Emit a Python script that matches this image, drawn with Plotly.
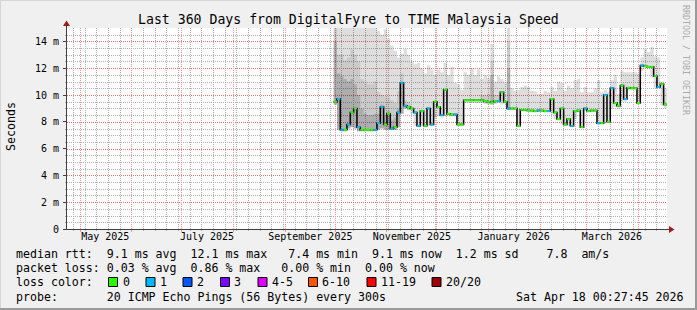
import math
import plotly.graph_objects as go
import pandas as pd

# ---------------- data ----------------
title_text = "Last 360 Days from DigitalFyre to TIME Malaysia Speed"
x_start = "2025-04-23 00:27:45"
x_end = "2026-04-18 00:27:45"
data_start = "2025-09-30"
step_days = 2

# median round-trip time (ms), one value per 2-day step
median_ms = [
    9.5, 9.7, 7.4, 7.4, 7.8, 8.7, 9.0, 7.6, 7.4, 7.4,
    7.4, 7.4, 7.4, 7.9, 9.1, 7.8, 8.6, 7.5, 7.6, 8.7,
    10.9, 9.2, 9.1, 9.0, 8.7, 7.7, 8.8, 7.7, 9.0, 7.8,
    9.5, 9.1, 8.5, 10.4, 8.6, 8.55, 8.55, 7.8, 7.8, 9.6,
    9.6, 9.6, 9.6, 9.6, 9.6, 9.55, 9.5, 9.45, 9.55, 9.55,
    10.2, 9.5, 9.0, 9.0, 9.0, 7.7, 8.9, 8.9, 8.85, 8.85,
    8.8, 8.85, 8.85, 8.8, 8.8, 9.7, 8.7, 8.2, 9.0, 7.8,
    8.2, 7.7, 8.8, 8.85, 7.6, 9.0, 8.8, 8.85, 8.85, 7.9,
    7.9, 10.0, 8.0, 10.5, 9.4, 9.2, 10.7, 9.7, 10.55, 10.5,
    10.5, 9.4, 12.2, 12.15, 12.1, 12.1, 11.4, 10.6, 10.8, 9.3,
]
# packet-loss class index per step (0 = no loss, 1 = one lost ping)
loss_idx = [
    0, 1, 1, 0, 1, 0, 0, 1, 0, 0,
    0, 0, 1, 1, 1, 0, 0, 1, 0, 1,
    1, 1, 0, 0, 1, 1, 0, 0, 1, 1,
    0, 0, 1, 0, 0, 0, 1, 0, 0, 0,
    0, 0, 0, 0, 0, 0, 0, 0, 0, 1,
    0, 0, 1, 0, 0, 0, 0, 0, 0, 0,
    0, 1, 0, 0, 1, 0, 0, 0, 0, 0,
    0, 1, 0, 0, 0, 1, 0, 0, 0, 1,
    0, 1, 0, 1, 0, 0, 0, 1, 0, 0,
    0, 0, 1, 0, 0, 0, 0, 1, 0, 0,
]
# smoke: highest / lowest ping per step (ms)
smoke_hi = [
    16.0, 16.0, 16.0, 16.0, 16.0, 16.0, 16.0, 16.0, 16.0, 16.0,
    16.0, 16.0, 16.0, 14.8, 14.5, 14.9, 14.2, 13.7, 13.3, 12.8,
    13.1, 13.45, 13.0, 12.5, 12.3, 12.4, 12.0, 11.6, 12.2, 11.9,
    11.5, 11.9, 11.7, 12.4, 11.5, 12.1, 10.9, 10.8, 10.4, 11.7,
    11.5, 12.0, 11.5, 11.9, 11.2, 11.5, 11.3, 13.8, 11.0, 11.4,
    11.2, 11.0, 15.2, 10.5, 10.3, 10.4, 10.6, 10.7, 10.6, 10.3,
    10.3, 10.1, 10.1, 10.3, 10.2, 10.6, 10.3, 11.0, 10.9, 10.3,
    10.7, 10.5, 11.1, 11.2, 10.2, 10.6, 10.2, 10.2, 10.5, 11.1,
    10.2, 10.4, 10.2, 11.1, 11.5, 10.1, 11.8, 11.7, 11.7, 11.7,
    11.7, 11.6, 12.8, 13.45, 13.2, 13.6, 12.9, 12.8, 11.0, 10.5,
]
smoke_lo = [
    9.3, 7.4, 7.3, 7.3, 7.5, 7.6, 7.5, 7.3, 7.3, 7.3,
    7.3, 7.3, 7.3, 7.4, 7.5, 7.4, 7.4, 7.4, 7.4, 7.6,
    8.6, 9.0, 8.9, 8.6, 7.7, 7.6, 7.7, 7.6, 7.7, 7.7,
    8.3, 8.4, 8.3, 8.4, 8.4, 8.4, 8.4, 7.7, 7.7, 9.4,
    9.4, 9.4, 9.4, 9.4, 9.4, 9.35, 9.3, 9.3, 9.35, 9.4,
    9.3, 9.3, 8.9, 8.9, 8.9, 7.6, 8.8, 8.8, 8.75, 8.75,
    8.7, 8.75, 8.75, 8.7, 8.7, 8.6, 8.2, 8.1, 7.8, 7.7,
    7.7, 7.6, 8.2, 8.7, 7.5, 8.8, 8.7, 8.75, 8.75, 7.8,
    7.8, 7.9, 7.9, 9.0, 9.1, 9.0, 9.5, 9.5, 10.4, 10.4,
    10.4, 9.3, 11.8, 12.0, 12.0, 11.3, 10.5, 10.5, 9.2, 9.0,
]
# denser smoke (inner ping ranks); None where not visible
smoke_mid = [
    15.5, 13.0, 13.0, 12.6, 12.8, 13.4, 13.0, 12.5, 11.2, 11.0,
    10.8, 10.8, 11.0, 10.2, 10.0, 9.9, 9.8, 9.6, 9.4, 10.3,
    11.6, 9.6, 9.5, None, None, None, None, None, None, None,
    None, None, None, None, None, None, None, None, None, None,
    None, None, None, None, 10.0, 10.0, 10.1, 12.5, 10.0, 10.0,
    None, None, 14.0, None, None, None, None, None, None, None,
    None, None, None, None, None, None, None, None, None, None,
    None, None, None, None, None, None, None, None, None, None,
    None, None, None, None, None, None, None, None, None, None,
    None, None, None, None, None, None, None, None, None, None,
]
smoke_dark = [
    14.0, 11.6, 11.4, 11.2, 11.0, 11.2, 10.8, 10.0, 9.0, 8.6,
    8.5, 8.5, 8.6, 8.6, 9.3, 8.5, 8.8, 8.1, 8.3, 9.0,
    11.0, 9.3, 9.2, None, None, None, None, None, None, None,
    None, None, None, None, None, None, None, None, None, None,
    None, None, None, None, None, None, None, 11.5, None, None,
    None, None, 12.0, None, None, None, None, None, None, None,
    None, None, None, None, None, None, None, None, None, None,
    None, None, None, None, None, None, None, None, None, None,
    None, None, None, None, None, None, None, None, None, None,
    None, None, None, None, None, None, None, None, None, None,
]

y_max = 15
y_ticks = [0, 2, 4, 6, 8, 10, 12, 14]
y_tick_text = ["0", "2 m", "4 m", "6 m", "8 m", "10 m", "12 m", "14 m"]
y_minor_step = 0.5
month_label_dates = ["2025-05-16", "2025-07-16", "2025-09-16",
                     "2025-11-16", "2026-01-16", "2026-03-16"]
month_labels = ["May 2025", "July 2025", "September 2025",
                "November 2025", "January 2026", "March 2026"]
first_month_grid = "2025-05-01"
first_week_grid = "2025-04-27"

loss_labels = ["0", "1", "2", "3", "4-5", "6-10", "11-19", "20/20"]
loss_colors = ["#26ff00", "#00b8ff", "#0059ff", "#7e00ff",
               "#dd00ff", "#ff5500", "#ff0000", "#a10000"]

rtt_parts = ["median rtt:", "9.1 ms avg", "12.1 ms max", "7.4 ms min",
             "9.1 ms now", "1.2 ms sd", "7.8", "am/s"]
rtt_gaps = [2, 2, 3, 2, 2, 4, 2]
loss_parts = ["packet loss:", "0.03 % avg", "0.86 % max", "0.00 % min", "0.00 % now"]
loss_gaps = [1, 2, 3, 2]
probe_parts = ["probe:", "20 ICMP Echo Pings (56 Bytes) every 300s"]
probe_gaps = [7]
stamp_text = "Sat Apr 18 00:27:45 2026"

# ---------------- helpers ----------------
W, H = 697, 310
L, R, T, B = 67, 30, 28, 81
PW, PH = W - L - R, H - T - B
BOTTOM = T + PH  # pixel row of value 0


def PX(x):
    return (x - L) / PW


def PY(y):
    return (BOTTOM - y) / PH


NB = "\u00a0"


def join(parts, gaps):
    s = parts[0]
    for g, p in zip(gaps, parts[1:]):
        s += NB * g + p
    return s.replace(" ", NB)


t0, t1 = pd.Timestamp(x_start), pd.Timestamp(x_end)


def col_of(ts):
    return math.floor(L + (ts - t0) / (t1 - t0) * PW)


def row_of(v):
    return BOTTOM - round(v * PH / y_max)


dates = list(pd.date_range(data_start, periods=len(median_ms), freq=f"{step_days}D"))
xs = dates + [dates[-1] + pd.Timedelta(days=step_days)]


def ext(v):
    return list(v) + [v[-1]]


mid_vals = [m if m is not None else lo for m, lo in zip(smoke_mid, smoke_lo)]
dark_vals = [d if d is not None else lo for d, lo in zip(smoke_dark, smoke_lo)]

fig = go.Figure()


def band(lo, hi, color):
    fig.add_trace(go.Scatter(x=xs, y=ext(lo), mode="lines",
                             line=dict(width=0, shape="hv"),
                             showlegend=False, hoverinfo="skip"))
    fig.add_trace(go.Scatter(x=xs, y=ext(hi), mode="lines",
                             line=dict(width=0, shape="hv"),
                             fill="tonexty", fillcolor=color,
                             showlegend=False, hoverinfo="skip"))


band(smoke_lo, smoke_hi, "rgba(0,0,0,0.13)")
band(smoke_lo, mid_vals, "rgba(0,0,0,0.09)")
band(smoke_lo, dark_vals, "rgba(0,0,0,0.14)")

# median: black step line, then loss-coloured horizontal parts
fig.add_trace(go.Scatter(x=xs, y=ext(median_ms), mode="lines",
                         line=dict(color="#000000", width=1.5, shape="hv"),
                         showlegend=False, hoverinfo="skip"))
for lvl in sorted(set(loss_idx)):
    sx, sy = [], []
    for i, (m, li) in enumerate(zip(median_ms, loss_idx)):
        if li == lvl:
            sx += [xs[i], xs[i + 1], None]
            sy += [m, m, None]
    fig.add_trace(go.Scatter(x=sx, y=sy, mode="lines",
                             line=dict(color=loss_colors[lvl], width=2),
                             showlegend=False, hoverinfo="skip"))

FONT = "DejaVu Sans Mono"
MAJ_H = "#e47272"
MAJ_V = "#ec9898"
MIN = "#b0b0b0"
DASH = "1px,1px"

fig.update_layout(
    width=W, height=H,
    margin=dict(l=L, r=R, t=T, b=B, pad=0),
    paper_bgcolor="#f0f0f0", plot_bgcolor="rgba(0,0,0,0)",
    showlegend=False,
    font=dict(family=FONT, size=10, color="#000000"),
    xaxis=dict(type="date", range=[x_start, x_end], tickmode="array",
               tickvals=month_label_dates, ticktext=month_labels,
               showgrid=False, zeroline=False, showline=False, ticks="",
               tickfont=dict(family=FONT, size=10, color="#000000"),
               fixedrange=True),
    yaxis=dict(range=[0, y_max], tickmode="array", tickvals=y_ticks,
               ticktext=y_tick_text, showgrid=False, zeroline=False,
               showline=False, ticks="outside", ticklen=3,
               tickcolor="#404040", ticklabelstandoff=2,
               tickfont=dict(family=FONT, size=10, color="#000000"),
               fixedrange=True),
)

shapes = []


def hline(y, x0, x1, color, width=1, dash=None, layer="below"):
    shapes.append(dict(type="line", xref="paper", yref="paper",
                       x0=PX(x0), x1=PX(x1), y0=PY(y), y1=PY(y), layer=layer,
                       line=dict(color=color, width=width, dash=dash)))


def vline(x, y0, y1, color, width=1, dash=None, layer="below"):
    shapes.append(dict(type="line", xref="paper", yref="paper",
                       x0=PX(x), x1=PX(x), y0=PY(y0), y1=PY(y1), layer=layer,
                       line=dict(color=color, width=width, dash=dash)))


# white canvas
shapes.append(dict(type="rect", xref="paper", yref="paper", layer="below",
                   x0=0, x1=1, y0=0, y1=1, fillcolor="#ffffff",
                   line=dict(width=0)))

# minor grid (y every 0.5, x weekly), then major grid (y every 2, x monthly)
major_rows = [row_of(v) for v in y_ticks if v > 0]
v = y_minor_step
while v < y_max:
    r = row_of(v)
    if r not in major_rows:
        hline(r + 0.5, L, L + PW, MIN, dash=DASH)
        hline(r + 0.5, L - 2, L, MIN)
    v += y_minor_step
month_starts = list(pd.date_range(first_month_grid, t1, freq="MS"))
month_cols = [col_of(m) for m in month_starts]
for wk in pd.date_range(first_week_grid, t1, freq="7D"):
    c = col_of(wk)
    if c not in month_cols and L <= c < L + PW:
        vline(c + 0.5, T, BOTTOM, MIN, dash=DASH)
        vline(c + 0.5, BOTTOM, BOTTOM + 2, MIN)
for r in major_rows:
    hline(r + 0.5, L, L + PW, MAJ_H, dash=DASH)
for c in month_cols:
    vline(c + 0.5, T, BOTTOM, MAJ_V, dash=DASH)
    vline(c + 0.5, BOTTOM, BOTTOM + 3, MAJ_V)

# outer frame
hline(0.5, 0, W, "#d6d6d6")
vline(0.5, 0, H, "#d6d6d6")
hline(H - 1, 0, W, "#9a9a9a", width=2)
vline(W - 1, 0, H, "#9a9a9a", width=2)

# axes with arrows
vline(L - 0.5, BOTTOM + 0.5, 24, "#404040", layer="above")
hline(BOTTOM + 0.5, L - 1, 670, "#404040", layer="above")
shapes.append(dict(type="path", xref="paper", yref="paper", layer="above",
                   path=f"M {PX(L - 0.5)},{PY(20.5)} L {PX(L - 4)},{PY(26)} L {PX(L + 3)},{PY(26)} Z",
                   fillcolor="#a01c1c", line=dict(width=0)))
shapes.append(dict(type="path", xref="paper", yref="paper", layer="above",
                   path=f"M {PX(674.5)},{PY(BOTTOM + 0.5)} L {PX(669)},{PY(BOTTOM - 3)} L {PX(669)},{PY(BOTTOM + 4)} Z",
                   fillcolor="#a01c1c", line=dict(width=0)))

# loss colour boxes
box_x = [108.5, 146, 183, 220.5, 258, 308.5, 367, 432]
for bx, col in zip(box_x, loss_colors):
    shapes.append(dict(type="rect", xref="paper", yref="paper",
                       x0=PX(bx), x1=PX(bx + 9), y0=PY(277.5), y1=PY(286.5),
                       fillcolor=col, line=dict(color="#000000", width=1)))
fig.update_layout(shapes=shapes)

ann = []


def text(x, y, s, size=11.6, xanchor="left", angle=0, color="#000000"):
    ann.append(dict(xref="paper", yref="paper", x=PX(x), y=PY(y), text=s,
                    showarrow=False, xanchor=xanchor, yanchor="middle",
                    textangle=angle, borderpad=0, borderwidth=0,
                    font=dict(family=FONT, size=size, color=color)))


text(348.5, 19, title_text.replace(" ", NB), size=13.2, xanchor="center")
text(11, 127, "Seconds", size=11.6, xanchor="center", angle=-90)
text(686, 60, "RRDTOOL / TOBI OETIKER".replace(" ", NB), size=8.3,
     xanchor="center", angle=90, color="#ababab")
text(16, 254.3, join(rtt_parts, rtt_gaps))
text(16, 268.3, join(loss_parts, loss_gaps))
text(16, 282, "loss" + NB + "color:")
label_x = [122.5, 159.8, 197.3, 234.4, 272.3, 322.3, 380.8, 446.4]
for lx, lab in zip(label_x, loss_labels):
    text(lx, 282, lab)
text(16, 296.5, join(probe_parts, probe_gaps))
text(683.5, 296.5, stamp_text.replace(" ", NB), xanchor="right")
fig.update_layout(annotations=ann)

fig.write_html("out.html", config=dict(displayModeBar=False))
